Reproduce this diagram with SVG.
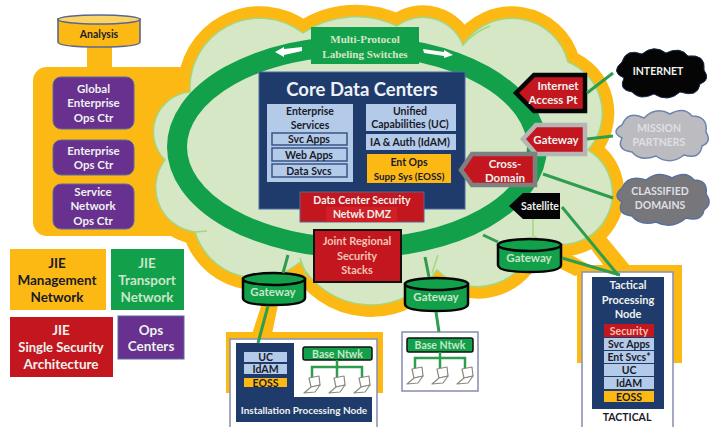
<svg xmlns="http://www.w3.org/2000/svg" width="713" height="427" viewBox="0 0 713 427">
<style>
text{font-family:Lato,"Liberation Sans",sans-serif;font-weight:700;text-anchor:middle}
.w{fill:#eef2ee;font-size:11.5px}
.wg{fill:#c9e6c9}
.wm{fill:#dfdfe4}
.ws{fill:#f3c4b4}
.sm{font-size:10.500px}
.t11{font-size:11px}
.k{fill:#1a1a2a;font-size:10.500px}
.lg{font-size:13.500px}
.y{fill:#fdb913}
.p{fill:#68308f;stroke:#5b6aa0;stroke-width:1}
.r{fill:#c4161f}
.g{fill:#12a04a}
.n{fill:#1f3b6b}
.b{fill:#b3cbe9}
.bb{fill:#b3cbe9;stroke:#3a5585;stroke-width:1.5}
.cn{fill:none;stroke:#2e9e4c;stroke-width:3}
.gw{fill:#12a04a;stroke:#050505;stroke-width:2.5}
.lap{fill:#fff;stroke:#8a8a80;stroke-width:1.2;stroke-linejoin:round}
.net{fill:none;stroke:#2e9e4c;stroke-width:2.5}
.box{fill:#fff;stroke:#8f93b5;stroke-width:1.6}
</style>
<defs>
<g id="laptop"><path class="lap" d="M-3-9 7-11 8-2-1 0Z"/><path class="lap" d="M-1 0 8-2 3 5-8 6Z"/></g>
</defs>
<rect width="713" height="427" fill="#fff"/>

<g id="management-band">
<rect class="y" x="33" y="67" width="180" height="169" rx="14"/>
<rect class="y" x="87" y="45" width="25" height="24"/>
<path class="y" d="M575 228 592 220 630 266 604 266Z"/>
<path class="y" d="M555 246 595 268 575 276 555 266Z"/>
<path class="y" d="M263 300 279 300 272 334 252 334Z"/>
<rect class="y" x="226" y="332" width="157" height="61"/>
<rect class="y" x="577" y="265" width="105" height="98"/>
</g>

<g id="cloud">
<path id="cloud-outer" fill="#fdb913" stroke="#fdb913" stroke-width="24" stroke-linejoin="round" d="M190 92A70 70 0 0 1 303 33A95 95 0 0 1 397 26A43 43 0 0 1 463 45A58 58 0 0 1 568 62A55 55 0 0 1 588 150A50 50 0 0 1 535 237A58 58 0 0 1 437 270A80 80 0 0 1 300 262A65 65 0 0 1 195 232A45 45 0 0 1 165 160A40 40 0 0 1 190 92Z"/>
<path id="cloud-inner" fill="#d6e7c6" stroke="#a6d67c" stroke-width="1.5" d="M190 92A70 70 0 0 1 303 33A95 95 0 0 1 397 26A43 43 0 0 1 463 45A58 58 0 0 1 568 62A55 55 0 0 1 588 150A50 50 0 0 1 535 237A58 58 0 0 1 437 270A80 80 0 0 1 300 262A65 65 0 0 1 195 232A45 45 0 0 1 165 160A40 40 0 0 1 190 92Z"/>
<path fill="none" stroke="#a6d67c" stroke-width="1.5" d="M463 45Q474 32 490 26M300 258 307 277M438 255 432 273M533 217V237M195 232 207 231"/>
<ellipse cx="357" cy="147" rx="180" ry="101" fill="none" stroke="#12a04a" stroke-width="20"/>
</g>

<g id="analysis">
<path d="M58 19V42Q58 47 99 47 140 47 140 42V19Z" fill="#fdb913" stroke="#5b6690" stroke-width="1.6"/>
<ellipse cx="99" cy="19.500" rx="41" ry="4.500" fill="#fbd467" stroke="#5b6690" stroke-width="1.6"/>
<text x="99" y="38" class="k">Analysis</text>
</g>

<g id="global-enterprise-ops">
<rect class="p" x="53" y="77" width="81" height="52" rx="8"/>
<text class="w" x="93.500" y="93">Global</text><text class="w" x="93.500" y="107">Enterprise</text><text class="w" x="93.500" y="122">Ops  Ctr</text>
</g>
<g id="enterprise-ops">
<rect class="p" x="53" y="140" width="81" height="35" rx="8"/>
<text class="w" x="93.500" y="155">Enterprise</text><text class="w" x="93.500" y="169">Ops Ctr</text>
</g>
<g id="service-network-ops">
<rect class="p" x="53" y="184" width="81" height="45" rx="8"/>
<text class="w" x="93" y="196">Service</text><text class="w" x="93" y="210">Network</text><text class="w" x="93" y="225">Ops Ctr</text>
</g>

<g id="mpls">
<rect class="g" x="311" y="27" width="108" height="37"/>
<text x="365" y="43" style="font-family:'Liberation Serif',serif;font-size:11px" fill="#d6e7c6">Multi-Protocol</text>
<text x="365" y="58" style="font-family:'Liberation Serif',serif;font-size:11px" fill="#d6e7c6">Labeling Switches</text>
<path fill="#fff" d="M275 52 284 47 284 49 302 47 302 51 284 55 284 57Z"/>
<path fill="#fff" d="M423 49 444 52 444 50 453 55 444 58 444 56 424 53Z"/>
</g>

<g id="core-data-centers">
<rect class="n" x="259" y="72" width="206" height="137" stroke="#4a6aa5"/>
<text x="362" y="96" style="font-size:18.500px" fill="#eef2f6">Core Data Centers</text>
<rect class="b" x="267" y="104" width="86" height="78"/>
<text class="k" x="310" y="115">Enterprise</text><text class="k" x="310" y="129">Services</text>
<rect class="bb" x="272" y="133" width="75" height="12"/><text class="k" x="309" y="143">Svc Apps</text>
<rect class="bb" x="272" y="148" width="75" height="13"/><text class="k" x="309" y="158.500">Web Apps</text>
<rect class="bb" x="272" y="164" width="75" height="13"/><text class="k" x="309" y="174.500">Data Svcs</text>
<rect class="b" x="366" y="104" width="90" height="27"/>
<text class="k" x="410" y="115">Unified</text><text class="k" x="410" y="128">Capabilities (UC)</text>
<rect class="b" x="366" y="134" width="90" height="16"/><text class="k" x="410" y="146">IA &amp; Auth (IdAM)</text>
<rect class="y" x="367" y="154" width="84" height="29"/>
<text class="k" x="409" y="166">Ent Ops</text><text class="k" x="409" y="180" style="font-size:9.800px">Supp Sys (EOSS)</text>
</g>

<g id="data-center-dmz">
<rect class="r" x="300" y="192" width="124" height="30" stroke="#5b6690"/>
<rect x="326" y="207" width="71" height="15" fill="#d01f26"/>
<text class="w sm" x="362" y="204">Data Center Security</text><text class="w sm" x="362" y="218">Netwk DMZ</text>
</g>

<g id="joint-regional">
<rect class="r" x="314" y="230" width="87" height="52" stroke="#111" stroke-width="2"/>
<text class="w ws t11" x="357" y="245">Joint Regional</text><text class="w ws t11" x="357" y="260">Security</text><text class="w ws t11" x="357" y="274">Stacks</text>
</g>

<g id="internet-access">
<path class="r" stroke="#050505" stroke-width="4.500" d="M516 93 534 75H585V111H534Z"/>
<text class="w" x="558" y="90">Internet</text><text class="w" x="553" y="104">Access Pt</text>
</g>
<g id="gateway-right">
<path class="r" stroke="#b5b5b5" stroke-width="4.500" d="M523 139 536 125H585V154H536Z"/>
<text class="w" x="556" y="144">Gateway</text>
</g>
<g id="cross-domain">
<path class="r" stroke="#808080" stroke-width="4.500" d="M461 170 472 154H535V185H472Z"/>
<text class="w" x="505" y="168">Cross-</text><text class="w" x="505" y="182">Domain</text>
</g>
<g id="satellite">
<path d="M509 206 523 193H560V219H523Z" fill="#050505"/>
<text class="w sm" x="540" y="210">Satellite</text>
</g>

<g id="internet">
<path fill="#050505" stroke="#1c2a50" d="M622 62Q626 48 642 54 654 44 666 53 680 46 688 56 706 54 704 70 711 80 700 84 698 98 680 92 668 103 654 94 640 101 632 92 618 90 624 78 610 72 622 62Z"/>
<text x="658" y="75" class="w sm">INTERNET</text>
</g>
<g id="mission-partners">
<path fill="#bcbcc0" stroke="#6d84ad" stroke-width="1.500" d="M622 125Q628 110 644 118 656 106 670 114 684 106 692 116 708 116 706 132 712 142 702 146 700 160 684 155 670 166 656 156 640 162 632 152 616 150 622 138 610 132 622 125Z"/>
<text class="w wm sm" x="659" y="132">MISSION</text><text class="w wm sm" x="659" y="146">PARTNERS</text>
</g>
<g id="classified-domains">
<path fill="#77777b" stroke="#58709c" stroke-width="1.500" d="M622 188Q628 174 646 180 658 170 672 178 686 170 694 180 708 180 706 194 713 204 704 210 702 222 686 218 672 230 656 222 640 226 632 216 616 214 622 202 612 196 622 188Z"/>
<text class="w wm sm" x="660" y="195">CLASSIFIED</text><text class="w wm sm" x="660" y="209">DOMAINS</text>
</g>

<g id="gateway-1">
<path class="gw" d="M243 279V298Q243 305 274 305 305 305 305 298V279Z"/>
<ellipse class="gw" cx="274" cy="279" rx="31" ry="6"/>
<text class="w wg" x="273" y="296">Gateway</text>
</g>
<g id="gateway-2">
<path class="gw" d="M405 284V304Q405 311 436.500 311 468 311 468 304V284Z"/>
<ellipse class="gw" cx="436.500" cy="284" rx="31.500" ry="6"/>
<text class="w wg" x="436" y="301">Gateway</text>
</g>
<g id="gateway-3">
<path class="gw" d="M498 245V265Q498 272 529.500 272 561 272 561 265V245Z"/>
<ellipse class="gw" cx="529.500" cy="245" rx="31.500" ry="6"/>
<text class="w wg" x="529" y="262">Gateway</text>
</g>

<g id="installation-node">
<rect class="box" x="230" y="339" width="147" height="90"/>
<path class="n" d="M236 343H294V397H372V422H236Z"/>
<rect class="b" x="244" y="352" width="43" height="10"/><text class="k" x="265.500" y="361">UC</text>
<rect class="b" x="244" y="364" width="43" height="10"/><text class="k" x="265.500" y="373">IdAM</text>
<rect class="y" x="244" y="378" width="43" height="9"/><text class="k" x="265.500" y="387">EOSS</text>
<text class="w" x="304" y="414" style="font-size:10px">Installation Processing Node</text>
<rect class="g" x="303" y="347" width="69" height="13" rx="2" stroke="#111" stroke-width="1.500"/>
<text class="w wg sm" x="337.500" y="357.500">Base Ntwk</text>
<path class="net" d="M337 360V367M312 378V367H362V378M337 367V378"/>
<use href="#laptop" x="312" y="387"/><use href="#laptop" x="337" y="387"/><use href="#laptop" x="362" y="387"/>
</g>

<g id="base-network">
<rect class="box" x="402" y="332" width="76" height="59"/>
<rect class="g" x="407" y="338" width="66" height="14" rx="2" stroke="#111" stroke-width="1.500"/>
<text class="w wg sm" x="440" y="349">Base Ntwk</text>
<path class="net" d="M440 352V358M415 368V358H465V368M440 358V368"/>
<use href="#laptop" x="415" y="378"/><use href="#laptop" x="440" y="378"/><use href="#laptop" x="465" y="378"/>
</g>

<g id="tactical-node">
<rect class="box" x="582" y="272" width="91" height="157"/>
<rect class="n" x="592" y="277" width="72" height="132"/>
<text class="w t11" x="628" y="289">Tactical</text><text class="w t11" x="628" y="304">Processing</text><text class="w t11" x="628" y="318">Node</text>
<rect class="r" x="604" y="324" width="50" height="13"/><text class="w ws sm" x="629" y="335">Security</text>
<rect class="b" x="604" y="338" width="50" height="12"/><text class="k" x="629" y="348">Svc Apps</text>
<rect class="b" x="604" y="351" width="50" height="12"/><text class="k" x="629" y="361">Ent Svcs*</text>
<rect class="b" x="604" y="364" width="50" height="12"/><text class="k" x="629" y="374">UC</text>
<rect class="b" x="604" y="377" width="50" height="12"/><text class="k" x="629" y="387">IdAM</text>
<rect class="y" x="604" y="391" width="50" height="11"/><text class="k" x="629" y="401">EOSS</text>
<text class="k" x="627" y="421">TACTICAL</text>
</g>

<g id="connectors">
<path class="cn" d="M587 93 613 73"/>
<path class="cn" d="M587 139 613 136"/>
<path class="cn" d="M543 174 613 198"/>
<path class="cn" d="M562 207 618 275"/>
<path class="cn" d="M288 255 283 273"/>
<path class="cn" d="M268 306 258 343"/>
<path class="cn" d="M425 257 429 277"/>
<path class="cn" d="M436 312 439 332"/>
<path class="cn" d="M483 235 498 242"/>
<path class="cn" d="M562 258 620 275"/>
</g>

<g id="legend-management">
<rect class="y" x="10" y="249" width="96" height="61"/>
<text class="k lg" x="57" y="268">JIE</text><text class="k lg" x="57" y="285">Management</text><text class="k lg" x="57" y="302">Network</text>
</g>
<g id="legend-transport">
<rect class="g" x="111" y="249" width="73" height="61"/>
<text class="w wg lg" x="147" y="268">JIE</text><text class="w wg lg" x="147" y="285">Transport</text><text class="w wg lg" x="147" y="302">Network</text>
</g>
<g id="legend-security">
<rect class="r" x="10" y="317" width="103" height="60"/>
<text class="w lg" x="61" y="335">JIE</text><text class="w" x="61" y="352" style="font-size:13px">Single Security</text><text class="w lg" x="61" y="369">Architecture</text>
</g>
<g id="legend-ops">
<rect class="p" x="118" y="316" width="66" height="43"/>
<text class="w lg" x="151" y="335">Ops</text><text class="w lg" x="151" y="351">Centers</text>
</g>
</svg>
